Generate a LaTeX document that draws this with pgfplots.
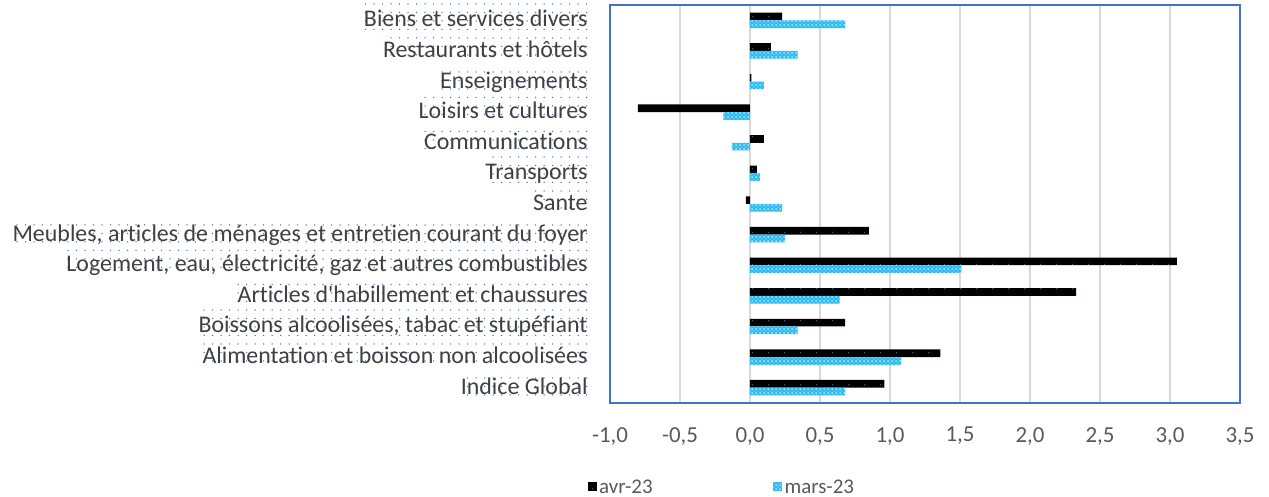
\documentclass[border=0pt]{standalone}
\usepackage{fontspec}
\setmainfont{Carlito}[Ligatures={NoCommon}]
\usepackage{pgfplots}
\pgfplotsset{compat=1.18}
\usetikzlibrary{patterns}
\definecolor{axblue}{RGB}{68,114,196}
\definecolor{mycyan}{RGB}{0,176,240}
\definecolor{mylight}{RGB}{185,230,252}
\definecolor{txt}{RGB}{64,64,64}
\definecolor{txtb}{RGB}{89,89,89}
\definecolor{gridc}{RGB}{217,217,217}
\pgfdeclarepatternformonly{labeldots}{\pgfqpoint{-1bp}{-1bp}}{\pgfqpoint{1bp}{1bp}}{\pgfqpoint{8.5bp}{8.5bp}}{\pgfpathcircle{\pgfqpoint{0bp}{0bp}}{0.75bp}\pgfusepath{fill}}
\pgfdeclarepatternformonly{bardots}{\pgfqpoint{-1bp}{-1bp}}{\pgfqpoint{1bp}{1bp}}{\pgfqpoint{16bp}{8bp}}{\pgfpathrectangle{\pgfqpoint{0bp}{0bp}}{\pgfqpoint{1.2bp}{1.2bp}}\pgfusepath{fill}}
\pgfdeclarepatternformonly{cyanx}{\pgfqpoint{-1bp}{-1bp}}{\pgfqpoint{5bp}{5bp}}{\pgfqpoint{4bp}{4bp}}{%
\pgfpathcircle{\pgfqpoint{0bp}{0bp}}{1bp}\pgfusepath{fill}%
\pgfpathcircle{\pgfqpoint{2bp}{2bp}}{0.7bp}\pgfusepath{fill}}
\begin{document}
\begin{tikzpicture}
\path[use as bounding box] (-610bp,-94bp) rectangle (659bp,403bp);
\begin{axis}[
  at={(0,0)}, anchor=south west,
  scale only axis, width=630bp, height=398bp,
  xbar, bar width=7.7bp,
  xmin=-1, xmax=3.5, ymin=-0.5, ymax=12.5,
  xtick={-1,-0.5,0,0.5,1,1.5,2,2.5,3,3.5},
  xticklabel={\pgfmathprintnumber[fixed,fixed zerofill,precision=1,use comma,assume math mode=true]{\tick}},
  xmajorgrids,
  major grid style={gridc, line width=1.5bp},
  axis line style={axblue, line width=1.5bp},
  tick style={draw=none},
  ytick={0,1,2,3,4,5,6,7,8,9,10,11,12},
  yticklabels={Indice Global,
    Alimentation et boisson non alcoolisées,
    {Boissons alcoolisées, tabac et stupéfiant},
    Articles d\textquotesingle habillement et chaussures,
    {Logement, eau, électricité, gaz et autres combustibles},
    {Meubles, articles de ménages et entretien courant du foyer},
    Sante, Transports, Communications, Loisirs et cultures,
    Enseignements, Restaurants et hôtels, Biens et services divers},
  xticklabel style={font=\fontsize{23}{27}\selectfont, text=txtb, inner sep=0pt, anchor=north, yshift=-24bp},
  yticklabel style={font=\fontsize{24}{28}\selectfont, text=txt, anchor=base east,
    inner xsep=0pt, inner ysep=0pt, text height=23bp, text depth=3bp,
    xshift=-18bp, yshift=-6.5bp, pattern=labeldots, pattern color=axblue},
  legend style={at={(0.178,-0.211)}, anchor=center, draw=none, fill=none,
    legend columns=2, font=\fontsize{21}{25}\selectfont, text=txtb,
    nodes={inner xsep=2.5bp},
    /tikz/every even column/.append style={column sep=118bp}},
  legend image code/.code={\fill[#1] (0bp,-4.5bp) rectangle (9bp,4.5bp);},
]
\addplot[fill=black, draw=none, bar shift=3.85bp,
  postaction={pattern=bardots, pattern color=mycyan!70!black}]
  coordinates {(0.96,0) (1.36,1) (0.68,2) (2.33,3) (3.05,4) (0.85,5)
    (-0.03,6) (0.05,7) (0.10,8) (-0.80,9) (0.01,10) (0.15,11) (0.23,12)};
\addlegendentry{avr-23}
\addplot[fill=mycyan!85!white, draw=none, bar shift=-3.85bp,
  postaction={pattern=cyanx, pattern color=mylight}]
  coordinates {(0.68,0) (1.08,1) (0.34,2) (0.64,3) (1.51,4) (0.25,5)
    (0.23,6) (0.07,7) (-0.13,8) (-0.19,9) (0.10,10) (0.34,11) (0.68,12)};
\addlegendentry{mars-23}
\end{axis}
\end{tikzpicture}
\end{document}
